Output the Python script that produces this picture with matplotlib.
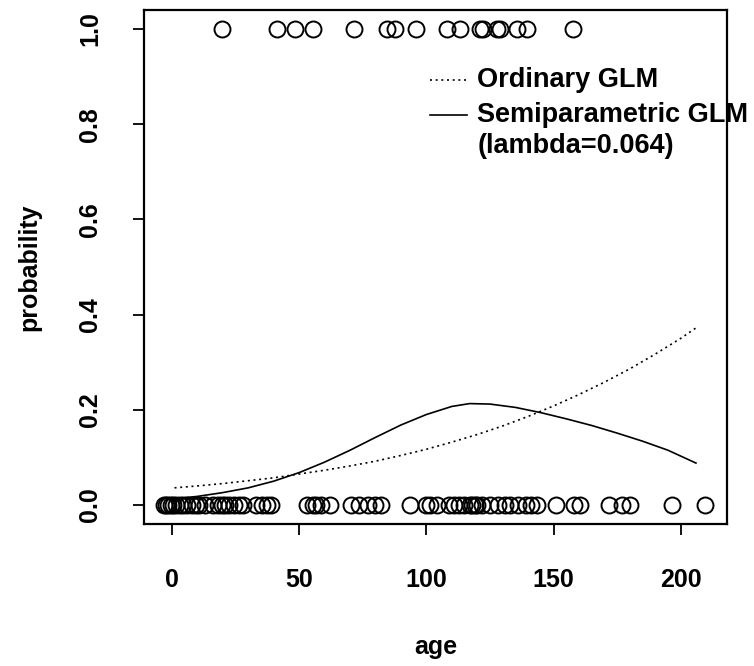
import matplotlib
matplotlib.use('Agg')
import matplotlib.pyplot as plt

# points: jittered ages, response 1 (top row) and 0 (bottom row)
top_age = [19.7, 41.3, 48.4, 55.4, 71.6, 84.5, 87.7, 95.9, 108.1, 113.3,
           121.1, 122.4, 127.7, 129.0, 135.5, 139.5, 157.7]
bottom_age = [-3.0, -2.5, -1.5, -0.5, 0.5, 1.5, 3.0, 4.5, 6.0, 8.0, 9.5, 10.5, 13.0,
              16.0, 18.0, 19.5, 21.0, 22.5, 24.5,
              26.5, 28.0, 33.0, 35.5, 37.5, 39.0,
              53.0, 55.5, 56.5, 58.5, 62.0, 70.5, 73.5, 77.0, 80.0, 82.0, 93.5, 100.0,
              101.5, 104.0,
              109, 111, 113, 115, 117, 118, 119, 120, 122, 125, 128, 131, 133, 136,
              139, 141, 143.5,
              151, 158, 160.5, 172, 177, 180, 196.6, 209.6]

# fitted curves
glm_age = [1, 10, 20, 30, 40, 50, 60, 70, 80, 90, 100, 110, 120, 130, 140, 150,
           160, 170, 180, 190, 200, 206]
glm_prob = [0.036, 0.040, 0.045, 0.051, 0.057, 0.065, 0.073, 0.082, 0.092, 0.104,
            0.117, 0.132, 0.148, 0.166, 0.186, 0.208, 0.232, 0.258, 0.286, 0.317,
            0.350, 0.372]
semi_age = [1, 10, 20, 30, 40, 50, 60, 70, 80, 90, 100, 110, 117, 125, 135, 145,
            155, 165, 175, 185, 195, 206]
semi_prob = [0.013, 0.018, 0.026, 0.036, 0.050, 0.068, 0.090, 0.115, 0.142, 0.168,
             0.190, 0.207, 0.213, 0.212, 0.205, 0.194, 0.181, 0.167, 0.151, 0.134,
             0.115, 0.088]

xticks = [0, 50, 100, 150, 200]
yticks = [0.0, 0.2, 0.4, 0.6, 0.8, 1.0]

plt.rcParams['font.family'] = ['Liberation Sans', 'DejaVu Sans']
plt.rcParams['font.weight'] = 'bold'

fig = plt.figure(figsize=(7.54, 6.66), dpi=100)
ax = fig.add_axes([144 / 754, 1 - 524 / 666, 583 / 754, 514 / 666])

mk = dict(marker='o', linestyle='none', markersize=11.5, markerfacecolor='none',
          markeredgecolor='black', markeredgewidth=1.4, clip_on=False)
ax.plot(top_age, [1.0] * len(top_age), **mk)
ax.plot(bottom_age, [0.0] * len(bottom_age), **mk)

ax.plot(glm_age, glm_prob, color='black', lw=1.2, linestyle=(0, (1.2, 2.2)))
ax.plot(semi_age, semi_prob, color='black', lw=1.2)

ax.set_xlim(-11, 218.2)
ax.set_ylim(-0.04, 1.04)
ax.set_xticks(xticks)
ax.set_xticklabels([str(v) for v in xticks])
ax.set_yticks(yticks)
ax.set_yticklabels([f'{v:.1f}' for v in yticks], rotation=90, va='center')

for s in ax.spines.values():
    s.set_linewidth(1.6)
ax.tick_params(direction='out', length=8, width=1.3, labelsize=18)
ax.tick_params(axis='x', pad=24)
ax.tick_params(axis='y', pad=22)

ax.set_xlabel('age', fontsize=18, fontweight='bold', va='center')
ax.set_ylabel('probability', fontsize=18, fontweight='bold', va='center')
ax.xaxis.set_label_coords(0.5, -0.24)
ax.yaxis.set_label_coords(-0.196, 0.5)

# legend drawn by hand so the handle sits on the first line of the label
ax.plot([0.49, 0.554], [0.864, 0.864], transform=ax.transAxes, color='black',
        lw=1.2, linestyle=(0, (1.2, 2.2)))
ax.text(0.572, 0.864, 'Ordinary GLM', transform=ax.transAxes, fontsize=19.5,
        va='center', ha='left')
ax.plot([0.49, 0.554], [0.796, 0.796], transform=ax.transAxes, color='black', lw=1.2)
ax.text(0.572, 0.796, 'Semiparametric GLM', transform=ax.transAxes, fontsize=19.5,
        va='center', ha='left', clip_on=False)
ax.text(0.572, 0.735, '(lambda=0.064)', transform=ax.transAxes, fontsize=19.5,
        va='center', ha='left')

fig.savefig('out.png', dpi=100)
